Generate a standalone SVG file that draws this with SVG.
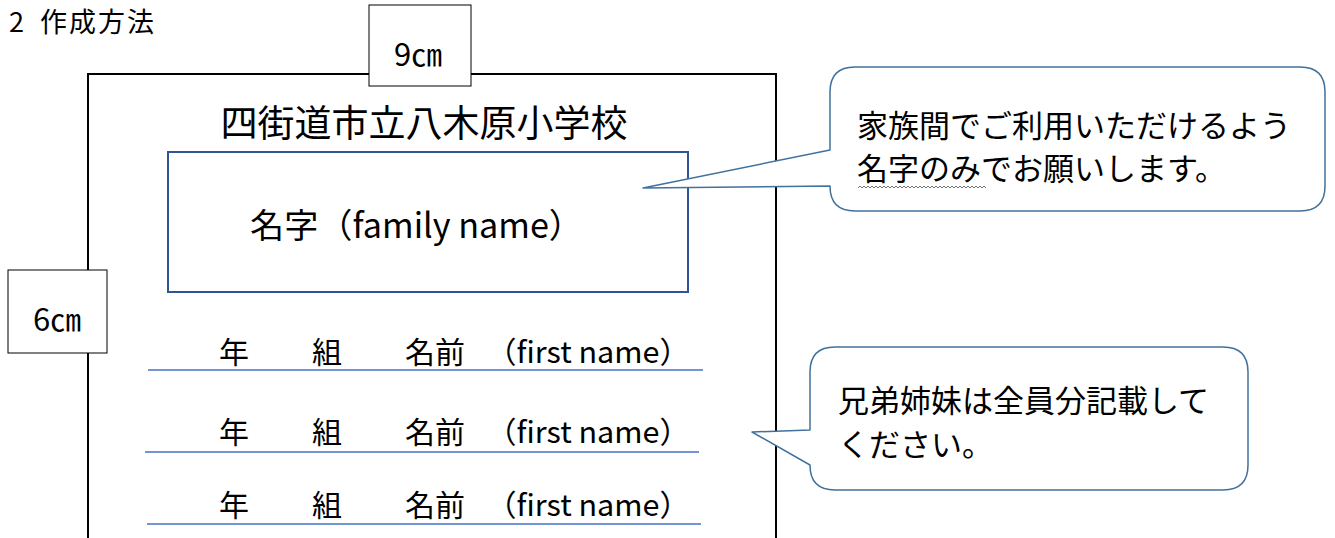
<svg xmlns="http://www.w3.org/2000/svg" width="1335" height="538" viewBox="0 0 1335 538">
<style>
text{font-family:"Noto Sans CJK JP","Noto Sans",sans-serif;fill:#000}
.box{fill:#fff;stroke:#000;stroke-width:1}
.callout{fill:#fff;stroke:#41719C;stroke-width:1.5;stroke-linejoin:round}
.rule{stroke:#4472C4;stroke-width:1.5}
.row{font-size:30px}
.ct{font-size:31px}
</style>
<rect width="1335" height="538" fill="#fff"/>
<text x="9" y="32" font-size="27"><tspan>2</tspan><tspan x="40" letter-spacing="2">作成方法</tspan></text>
<g id="card">
<path d="M88 538 V74 H776 V538" fill="none" stroke="#000" stroke-width="2"/>
<text x="424" y="137" font-size="37" text-anchor="middle">四街道市立八木原小学校</text>
</g>
<g id="width-label">
<rect class="box" x="369" y="5" width="102" height="81"/>
<text x="418" y="66" font-size="31" text-anchor="middle">9㎝</text>
</g>
<g id="height-label">
<rect class="box" x="8" y="270" width="99" height="83"/>
<text x="57" y="331" font-size="31" text-anchor="middle">6㎝</text>
</g>
<g id="family-name">
<rect x="168" y="152" width="520" height="140" fill="#fff" stroke="#2F5597" stroke-width="2"/>
<text x="250" y="238" font-size="34" textLength="333" lengthAdjust="spacingAndGlyphs">名字（family name）</text>
</g>
<g id="rows">
<g id="row1">
<text class="row" y="363"><tspan x="219">年</tspan><tspan x="312">組</tspan><tspan x="405">名前</tspan><tspan x="486" textLength="204" lengthAdjust="spacingAndGlyphs">（first name）</tspan></text>
<line class="rule" x1="148" y1="370" x2="703" y2="370"/>
</g>
<g id="row2">
<text class="row" y="443"><tspan x="219">年</tspan><tspan x="312">組</tspan><tspan x="405">名前</tspan><tspan x="486" textLength="204" lengthAdjust="spacingAndGlyphs">（first name）</tspan></text>
<line class="rule" x1="145" y1="452" x2="699" y2="452"/>
</g>
<g id="row3">
<text class="row" y="516"><tspan x="219">年</tspan><tspan x="312">組</tspan><tspan x="405">名前</tspan><tspan x="486" textLength="204" lengthAdjust="spacingAndGlyphs">（first name）</tspan></text>
<line class="rule" x1="147" y1="524" x2="701" y2="524"/>
</g>
</g>
<g id="callout-family">
<path class="callout" d="M855 67 H1300 Q1325 67 1325 92 V186 Q1325 211 1300 211 H855 Q830 211 830 186 L643 188 L830 150 V92 Q830 67 855 67 Z"/>
<text class="ct" x="857" y="137">家族間でご利用いただけるよう</text>
<text class="ct" x="857" y="180">名字のみでお願いします。</text>
<path d="M858 188 l2 -2 l2 2 l2 -2 l2 2 l2 -2 l2 2 l2 -2 l2 2 l2 -2 l2 2 l2 -2 l2 2 l2 -2 l2 2 l2 -2 l2 2 l2 -2 l2 2 l2 -2 l2 2 l2 -2 l2 2 l2 -2 l2 2 l2 -2 l2 2 l2 -2 l2 2 l2 -2 l2 2 l2 -2 l2 2 l2 -2 l2 2 l2 -2 l2 2 l2 -2 l2 2 l2 -2 l2 2 l2 -2 l2 2 l2 -2 l2 2 l2 -2 l2 2 l2 -2 l2 2 l2 -2 l2 2 l2 -2 l2 2 l2 -2 l2 2 l2 -2 l2 2 l2 -2 l2 2 l2 -2 l2 2 l2 -2 l2 2 l2 -2 l2 2" fill="none" stroke="#555" stroke-width="0.8"/>
</g>
<g id="callout-siblings">
<path class="callout" d="M835 347 H1223 Q1248 347 1248 372 V465 Q1248 490 1223 490 H835 Q810 490 810 465 L752 432 L810 430 V372 Q810 347 835 347 Z"/>
<text class="ct" x="838" y="412">兄弟姉妹は全員分記載して</text>
<text class="ct" x="838" y="456">ください。</text>
</g>
</svg>
